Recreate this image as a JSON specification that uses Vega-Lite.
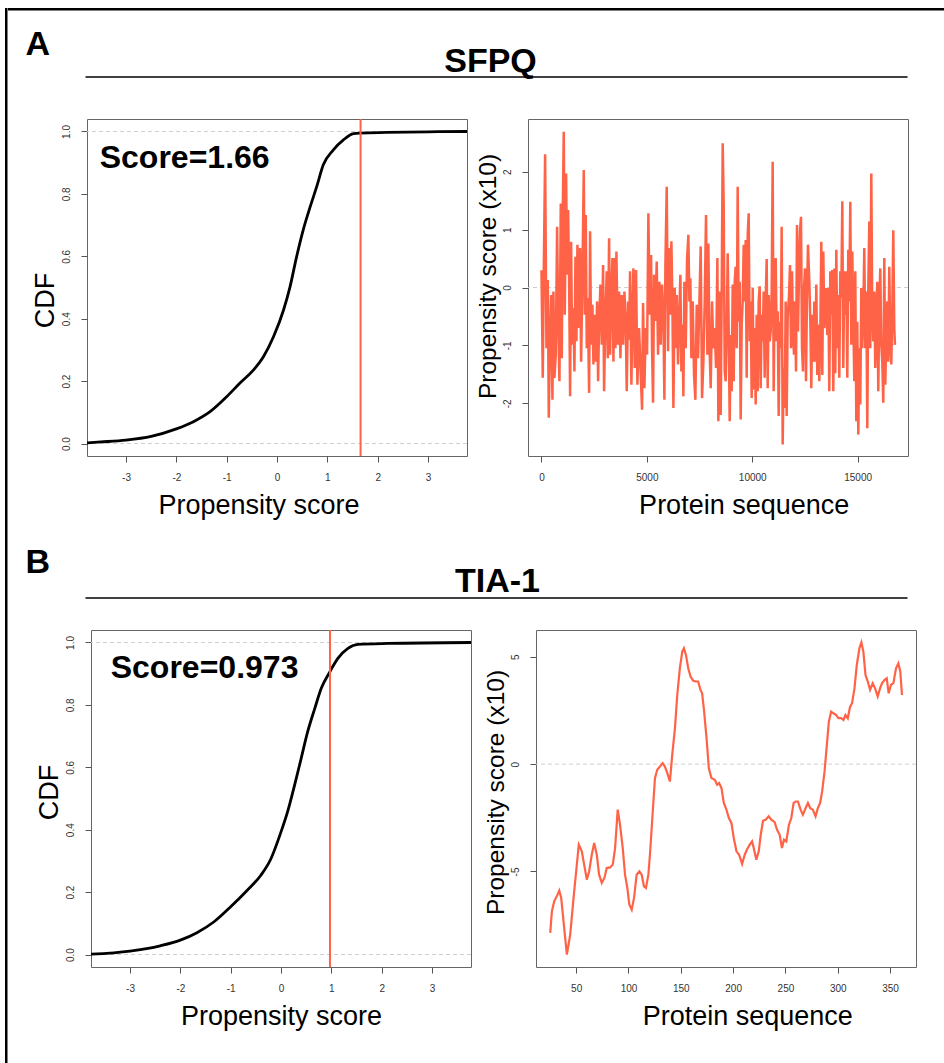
{
"$schema": "https://vega.github.io/schema/vega-lite/v6.json",
"padding": {"left": 5, "top": 8, "right": 0, "bottom": 0},
"background": "white",
"spacing": 0,
"config": {
 "font": "Liberation Sans",
 "view": {"stroke": "#666", "strokeWidth": 1},
 "axis": {"domain": false, "grid": false, "tickColor": "#555", "tickSize": 6, "tickWidth": 1, "labelFont": "Liberation Sans", "labelFontSize": 10, "labelColor": "#333", "titleFont": "Liberation Sans", "titleFontWeight": "normal", "titleColor": "black", "labelFlush": false, "labelOverlap": false},
 "axisX": {"labelPadding": 10, "titlePadding": 10, "titleFontSize": 27},
 "axisY": {"labelAngle": 270, "labelAlign": "center", "labelBaseline": "bottom", "labelPadding": 10, "titlePadding": 2, "titleFontSize": 27}
},
"datasets": {
 "cdfA": [
  {"x": -3.78, "p": 0.002}, {"x": -3.5, "p": 0.005}, {"x": -3.0, "p": 0.011}, {"x": -2.5, "p": 0.023}, {"x": -2.0, "p": 0.047}, {"x": -1.66, "p": 0.07}, {"x": -1.33, "p": 0.102}, {"x": -1.0, "p": 0.15}, {"x": -0.74, "p": 0.193}, {"x": -0.47, "p": 0.235}, {"x": -0.27, "p": 0.278}, {"x": -0.07, "p": 0.342}, {"x": 0.13, "p": 0.428}, {"x": 0.26, "p": 0.503}, {"x": 0.39, "p": 0.599}, {"x": 0.52, "p": 0.684}, {"x": 0.66, "p": 0.759}, {"x": 0.79, "p": 0.824}, {"x": 0.92, "p": 0.893}, {"x": 1.12, "p": 0.941}, {"x": 1.32, "p": 0.973}, {"x": 1.52, "p": 0.993}, {"x": 1.65, "p": 0.995}, {"x": 2.18, "p": 0.997}, {"x": 3.0, "p": 0.999}, {"x": 3.78, "p": 1.0}
 ],
 "cdfB": [
  {"x": -3.78, "p": 0.001}, {"x": -3.0, "p": 0.011}, {"x": -2.4, "p": 0.028}, {"x": -2.0, "p": 0.046}, {"x": -1.67, "p": 0.07}, {"x": -1.33, "p": 0.105}, {"x": -1.0, "p": 0.153}, {"x": -0.67, "p": 0.206}, {"x": -0.4, "p": 0.254}, {"x": -0.2, "p": 0.307}, {"x": 0.0, "p": 0.393}, {"x": 0.13, "p": 0.457}, {"x": 0.27, "p": 0.543}, {"x": 0.4, "p": 0.628}, {"x": 0.53, "p": 0.714}, {"x": 0.67, "p": 0.788}, {"x": 0.8, "p": 0.853}, {"x": 0.97, "p": 0.906}, {"x": 1.13, "p": 0.949}, {"x": 1.33, "p": 0.981}, {"x": 1.53, "p": 0.994}, {"x": 2.13, "p": 0.997}, {"x": 3.78, "p": 1.0}
 ],
 "sfpq": [
  {"pos": 0, "score": 0.30}, {"pos": 61, "score": -1.56}, {"pos": 109, "score": 0.30}, {"pos": 172, "score": 2.30}, {"pos": 235, "score": -1.05}, {"pos": 299, "score": 0.13}, {"pos": 346, "score": -2.25}, {"pos": 393, "score": -1.10}, {"pos": 457, "score": -0.13}, {"pos": 520, "score": -1.94}, {"pos": 567, "score": -0.07}, {"pos": 615, "score": -1.56}, {"pos": 678, "score": -1.16}, {"pos": 741, "score": 1.05}, {"pos": 789, "score": -0.47}, {"pos": 852, "score": -1.62}, {"pos": 915, "score": 1.45}, {"pos": 963, "score": -1.22}, {"pos": 1010, "score": 1.31}, {"pos": 1057, "score": 2.69}, {"pos": 1105, "score": -0.47}, {"pos": 1168, "score": 1.97}, {"pos": 1216, "score": 0.22}, {"pos": 1263, "score": 1.34}, {"pos": 1310, "score": 0.16}, {"pos": 1358, "score": -1.88}, {"pos": 1405, "score": 0.79}, {"pos": 1453, "score": -0.99}, {"pos": 1516, "score": -0.36}, {"pos": 1563, "score": -1.45}, {"pos": 1611, "score": 0.53}, {"pos": 1658, "score": -0.93}, {"pos": 1706, "score": 0.74}, {"pos": 1769, "score": -0.70}, {"pos": 1832, "score": 0.68}, {"pos": 1880, "score": -1.28}, {"pos": 1943, "score": 0.22}, {"pos": 2006, "score": 2.03}, {"pos": 2054, "score": -0.47}, {"pos": 2101, "score": 1.25}, {"pos": 2148, "score": -1.05}, {"pos": 2196, "score": -0.18}, {"pos": 2259, "score": -1.82}, {"pos": 2306, "score": 0.97}, {"pos": 2354, "score": -0.99}, {"pos": 2417, "score": -0.30}, {"pos": 2465, "score": -1.33}, {"pos": 2512, "score": -0.47}, {"pos": 2575, "score": -1.28}, {"pos": 2639, "score": -0.24}, {"pos": 2686, "score": -1.62}, {"pos": 2733, "score": -0.61}, {"pos": 2797, "score": 0.05}, {"pos": 2860, "score": -0.99}, {"pos": 2923, "score": 0.39}, {"pos": 2970, "score": -1.79}, {"pos": 3034, "score": -0.47}, {"pos": 3097, "score": 0.28}, {"pos": 3144, "score": -1.22}, {"pos": 3208, "score": 0.85}, {"pos": 3255, "score": -1.16}, {"pos": 3303, "score": -0.24}, {"pos": 3366, "score": 0.51}, {"pos": 3413, "score": -1.28}, {"pos": 3461, "score": 0.51}, {"pos": 3508, "score": -1.05}, {"pos": 3555, "score": 0.62}, {"pos": 3619, "score": -0.99}, {"pos": 3682, "score": -0.07}, {"pos": 3745, "score": -1.22}, {"pos": 3808, "score": -0.13}, {"pos": 3872, "score": -0.99}, {"pos": 3935, "score": -0.07},
  {"pos": 3997, "score": -0.60}, {"pos": 4045, "score": -1.79}, {"pos": 4108, "score": -0.24}, {"pos": 4155, "score": -0.90}, {"pos": 4203, "score": 0.28}, {"pos": 4266, "score": -1.68}, {"pos": 4313, "score": -0.50}, {"pos": 4361, "score": 0.33}, {"pos": 4424, "score": -1.39}, {"pos": 4487, "score": 0.30}, {"pos": 4551, "score": -1.68}, {"pos": 4630, "score": -0.70}, {"pos": 4709, "score": -1.50}, {"pos": 4772, "score": -2.11}, {"pos": 4819, "score": -0.27}, {"pos": 4883, "score": -1.74}, {"pos": 4946, "score": -0.70}, {"pos": 5009, "score": -1.16}, {"pos": 5072, "score": 1.28}, {"pos": 5135, "score": -0.47}, {"pos": 5199, "score": 0.56}, {"pos": 5246, "score": -1.05}, {"pos": 5294, "score": -1.99}, {"pos": 5341, "score": 0.22}, {"pos": 5404, "score": -0.58}, {"pos": 5467, "score": 0.45}, {"pos": 5531, "score": -1.16}, {"pos": 5594, "score": 0.10}, {"pos": 5657, "score": -0.99}, {"pos": 5720, "score": 0.05}, {"pos": 5784, "score": -0.47}, {"pos": 5831, "score": -1.94}, {"pos": 5879, "score": 0.39}, {"pos": 5942, "score": 1.74}, {"pos": 6005, "score": -1.10}, {"pos": 6052, "score": 0.68}, {"pos": 6100, "score": -0.47}, {"pos": 6163, "score": 0.80}, {"pos": 6211, "score": -0.24}, {"pos": 6258, "score": -2.08}, {"pos": 6321, "score": -0.01}, {"pos": 6369, "score": -1.05}, {"pos": 6416, "score": -0.13}, {"pos": 6479, "score": -1.33}, {"pos": 6527, "score": -0.58}, {"pos": 6590, "score": 0.22}, {"pos": 6637, "score": -1.45}, {"pos": 6685, "score": -0.64}, {"pos": 6732, "score": -1.88}, {"pos": 6780, "score": 0.10}, {"pos": 6843, "score": -1.05}, {"pos": 6906, "score": 0.48}, {"pos": 6969, "score": 0.91}, {"pos": 7017, "score": -0.24}, {"pos": 7064, "score": 0.16}, {"pos": 7112, "score": -1.22}, {"pos": 7175, "score": -0.24}, {"pos": 7238, "score": -1.51}, {"pos": 7301, "score": -1.94}, {"pos": 7365, "score": -0.30}, {"pos": 7428, "score": -1.22}, {"pos": 7491, "score": -0.27}, {"pos": 7554, "score": 0.71}, {"pos": 7618, "score": -1.91}, {"pos": 7681, "score": -1.28}, {"pos": 7744, "score": -0.24}, {"pos": 7807, "score": 1.25}, {"pos": 7871, "score": -1.16}, {"pos": 7918, "score": 0.76}, {"pos": 7966, "score": -0.93}, {"pos": 8029, "score": -1.74}, {"pos": 8092, "score": -0.24}, {"pos": 8155, "score": -1.05}, {"pos": 8218, "score": -0.70}, {"pos": 8282, "score": -1.39}, {"pos": 8345, "score": 0.51}, {"pos": 8392, "score": -2.31},
  {"pos": 8456, "score": -0.07}, {"pos": 8503, "score": -2.20}, {"pos": 8550, "score": -0.13}, {"pos": 8598, "score": 2.49}, {"pos": 8645, "score": 1.43}, {"pos": 8693, "score": -1.45}, {"pos": 8740, "score": -1.62}, {"pos": 8788, "score": -0.73}, {"pos": 8835, "score": 0.59}, {"pos": 8882, "score": -0.70}, {"pos": 8930, "score": -2.31}, {"pos": 8977, "score": -0.82}, {"pos": 9025, "score": -1.79}, {"pos": 9072, "score": 0.05}, {"pos": 9120, "score": -1.62}, {"pos": 9167, "score": 0.10}, {"pos": 9214, "score": 0.36}, {"pos": 9262, "score": -1.05}, {"pos": 9309, "score": 1.74}, {"pos": 9357, "score": -0.59}, {"pos": 9404, "score": 0.10}, {"pos": 9452, "score": -2.28}, {"pos": 9499, "score": -0.64}, {"pos": 9546, "score": -0.24}, {"pos": 9594, "score": 0.74}, {"pos": 9641, "score": -0.24}, {"pos": 9689, "score": 0.82}, {"pos": 9736, "score": -1.56}, {"pos": 9784, "score": 0.91}, {"pos": 9831, "score": 1.28}, {"pos": 9878, "score": -0.93}, {"pos": 9926, "score": -0.24}, {"pos": 9973, "score": -1.91}, {"pos": 10021, "score": -0.01}, {"pos": 10068, "score": -1.76}, {"pos": 10116, "score": -0.70}, {"pos": 10163, "score": -2.02}, {"pos": 10210, "score": -0.47}, {"pos": 10258, "score": -1.79}, {"pos": 10305, "score": -0.24}, {"pos": 10353, "score": 0.02}, {"pos": 10400, "score": -1.74}, {"pos": 10448, "score": -0.47}, {"pos": 10495, "score": -0.93}, {"pos": 10543, "score": -0.07}, {"pos": 10590, "score": -1.56}, {"pos": 10637, "score": -0.24}, {"pos": 10685, "score": 0.49}, {"pos": 10732, "score": -1.74}, {"pos": 10780, "score": -0.13}, {"pos": 10827, "score": -0.93}, {"pos": 10875, "score": -0.76}, {"pos": 10922, "score": -0.07}, {"pos": 10969, "score": 2.17}, {"pos": 11017, "score": -1.79}, {"pos": 11064, "score": -0.01}, {"pos": 11112, "score": 0.51}, {"pos": 11159, "score": -0.93}, {"pos": 11207, "score": -0.41}, {"pos": 11254, "score": -2.22}, {"pos": 11301, "score": -0.59}, {"pos": 11349, "score": -1.05}, {"pos": 11396, "score": 1.05}, {"pos": 11444, "score": -2.71}, {"pos": 11491, "score": -1.39}, {"pos": 11539, "score": -2.08}, {"pos": 11586, "score": -0.24}, {"pos": 11633, "score": -2.22}, {"pos": 11681, "score": -0.53}, {"pos": 11744, "score": -0.13}, {"pos": 11792, "score": 0.39}, {"pos": 11839, "score": -1.05}, {"pos": 11887, "score": 0.28}, {"pos": 11934, "score": -0.76}, {"pos": 11981, "score": -1.16}, {"pos": 12029, "score": -0.24}, {"pos": 12076, "score": -1.45}, {"pos": 12124, "score": 1.08}, {"pos": 12171, "score": -0.76}, {"pos": 12218, "score": 0.22}, {"pos": 12266, "score": 0.97}, {"pos": 12313, "score": 1.22}, {"pos": 12361, "score": -1.05}, {"pos": 12408, "score": -1.45}, {"pos": 12456, "score": -0.01}, {"pos": 12503, "score": 0.33}, {"pos": 12550, "score": -1.62}, {"pos": 12598, "score": -0.13}, {"pos": 12645, "score": 0.74}, {"pos": 12708, "score": 0.10}, {"pos": 12756, "score": -0.59},
  {"pos": 12802, "score": -1.74}, {"pos": 12850, "score": -0.47}, {"pos": 12897, "score": -1.28}, {"pos": 12945, "score": -0.24}, {"pos": 12992, "score": -1.28}, {"pos": 13039, "score": 0.05}, {"pos": 13087, "score": -1.51}, {"pos": 13134, "score": -0.64}, {"pos": 13182, "score": -1.62}, {"pos": 13229, "score": -0.76}, {"pos": 13277, "score": 0.79}, {"pos": 13324, "score": -1.51}, {"pos": 13372, "score": 0.62}, {"pos": 13419, "score": -0.70}, {"pos": 13466, "score": -0.47}, {"pos": 13514, "score": -0.01}, {"pos": 13561, "score": -0.82}, {"pos": 13609, "score": -0.01}, {"pos": 13656, "score": -1.79}, {"pos": 13704, "score": 0.28}, {"pos": 13751, "score": -0.47}, {"pos": 13798, "score": 0.30}, {"pos": 13846, "score": -1.79}, {"pos": 13893, "score": 0.33}, {"pos": 13941, "score": -1.48}, {"pos": 13988, "score": 0.65}, {"pos": 14036, "score": -1.05}, {"pos": 14083, "score": -0.13}, {"pos": 14130, "score": -1.56}, {"pos": 14178, "score": 0.28}, {"pos": 14225, "score": -0.18}, {"pos": 14273, "score": 1.49}, {"pos": 14320, "score": -1.39}, {"pos": 14368, "score": 0.28}, {"pos": 14415, "score": -0.47}, {"pos": 14462, "score": 0.28}, {"pos": 14510, "score": -1.56}, {"pos": 14557, "score": 0.65}, {"pos": 14605, "score": -0.24}, {"pos": 14652, "score": 1.48}, {"pos": 14700, "score": -0.99}, {"pos": 14747, "score": 0.62}, {"pos": 14794, "score": -0.59}, {"pos": 14842, "score": -1.62}, {"pos": 14889, "score": 0.28}, {"pos": 14937, "score": -2.31}, {"pos": 14984, "score": -0.59}, {"pos": 15032, "score": -2.54}, {"pos": 15079, "score": -1.05}, {"pos": 15126, "score": -2.02}, {"pos": 15174, "score": -0.01}, {"pos": 15221, "score": -1.05}, {"pos": 15269, "score": -0.47}, {"pos": 15316, "score": 0.68}, {"pos": 15364, "score": -1.05}, {"pos": 15411, "score": -0.07}, {"pos": 15458, "score": -2.43}, {"pos": 15506, "score": -0.01}, {"pos": 15553, "score": 1.14}, {"pos": 15601, "score": -1.05}, {"pos": 15648, "score": 1.97}, {"pos": 15696, "score": -0.47}, {"pos": 15743, "score": -0.93}, {"pos": 15790, "score": -0.07}, {"pos": 15838, "score": -1.39}, {"pos": 15885, "score": -0.47}, {"pos": 15933, "score": 0.10}, {"pos": 15980, "score": -1.79}, {"pos": 16028, "score": -0.30}, {"pos": 16075, "score": 0.33}, {"pos": 16122, "score": -0.99}, {"pos": 16170, "score": -1.28}, {"pos": 16217, "score": -1.99}, {"pos": 16265, "score": 0.51}, {"pos": 16312, "score": -1.68}, {"pos": 16360, "score": -0.82}, {"pos": 16407, "score": -0.24}, {"pos": 16454, "score": -1.28}, {"pos": 16502, "score": 0.36}, {"pos": 16549, "score": -0.87}, {"pos": 16597, "score": -1.33}, {"pos": 16644, "score": -0.47}, {"pos": 16692, "score": 0.99}, {"pos": 16739, "score": -0.70}, {"pos": 16771, "score": -0.99}
 ],
 "tia": [
  {"pos": 25.2, "score": -7.86}, {"pos": 26.8, "score": -6.85}, {"pos": 29.0, "score": -6.39}, {"pos": 32.2, "score": -6.08}, {"pos": 33.8, "score": -5.89}, {"pos": 35.7, "score": -6.23}, {"pos": 37.9, "score": -7.32}, {"pos": 41.1, "score": -8.87}, {"pos": 44.3, "score": -7.94}, {"pos": 47.5, "score": -6.23}, {"pos": 50.0, "score": -4.99}, {"pos": 52.5, "score": -3.75}, {"pos": 55.4, "score": -4.06}, {"pos": 57.6, "score": -4.68}, {"pos": 60.2, "score": -5.38}, {"pos": 62.4, "score": -4.99}, {"pos": 64.9, "score": -4.22}, {"pos": 67.2, "score": -3.67}, {"pos": 69.7, "score": -4.22}, {"pos": 71.9, "score": -5.15}, {"pos": 74.5, "score": -5.53}, {"pos": 77.0, "score": -5.30}, {"pos": 79.2, "score": -4.84}, {"pos": 82.4, "score": -4.81}, {"pos": 85.0, "score": -4.68}, {"pos": 87.2, "score": -3.91}, {"pos": 89.7, "score": -2.12}, {"pos": 91.9, "score": -2.82}, {"pos": 94.5, "score": -3.91}, {"pos": 96.7, "score": -5.15}, {"pos": 98.9, "score": -5.77}, {"pos": 100.8, "score": -6.54}, {"pos": 103.1, "score": -6.78}, {"pos": 105.3, "score": -6.23}, {"pos": 107.8, "score": -5.15}, {"pos": 110.4, "score": -4.99}, {"pos": 112.6, "score": -5.15}, {"pos": 114.8, "score": -5.69}, {"pos": 116.7, "score": -5.77}, {"pos": 119.0, "score": -5.15}, {"pos": 120.5, "score": -4.22}, {"pos": 122.8, "score": -2.51}, {"pos": 125.3, "score": -0.65}, {"pos": 127.5, "score": -0.26}, {"pos": 130.1, "score": -0.11}, {"pos": 132.6, "score": 0.05}, {"pos": 134.8, "score": -0.11}, {"pos": 137.1, "score": -0.42}, {"pos": 139.6, "score": -0.81}, {"pos": 141.8, "score": 0.43}, {"pos": 144.4, "score": 1.67}, {"pos": 146.6, "score": 3.22}, {"pos": 149.1, "score": 4.47}, {"pos": 151.4, "score": 5.24}, {"pos": 153.0, "score": 5.40}, {"pos": 154.9, "score": 5.09}, {"pos": 157.1, "score": 4.47}, {"pos": 159.3, "score": 4.08}, {"pos": 161.9, "score": 3.88}, {"pos": 164.4, "score": 3.85}, {"pos": 166.6, "score": 3.85}, {"pos": 168.8, "score": 3.46}, {"pos": 170.4, "score": 3.30}, {"pos": 172.3, "score": 2.45}, {"pos": 174.6, "score": 1.21}, {"pos": 176.8, "score": -0.19}, {"pos": 179.3, "score": -0.65}, {"pos": 182.5, "score": -0.73}, {"pos": 184.7, "score": -0.96}, {"pos": 186.6, "score": -0.88}, {"pos": 188.9, "score": -1.12}, {"pos": 191.1, "score": -1.81}, {"pos": 193.6, "score": -2.12}, {"pos": 195.9, "score": -2.51}, {"pos": 198.4, "score": -2.74}, {"pos": 200.6, "score": -3.44}, {"pos": 203.2, "score": -4.06}, {"pos": 205.7, "score": -4.22}, {"pos": 208.6, "score": -4.65}, {"pos": 211.1, "score": -4.22}, {"pos": 213.3, "score": -3.98}, {"pos": 215.9, "score": -3.75}, {"pos": 218.1, "score": -3.60}, {"pos": 219.7, "score": -3.91}, {"pos": 222.2, "score": -4.45}, {"pos": 224.5, "score": -4.06}, {"pos": 226.4, "score": -3.29}, {"pos": 228.6, "score": -2.64}, {"pos": 231.1, "score": -2.59}, {"pos": 234.0, "score": -2.43}, {"pos": 236.5, "score": -2.59}, {"pos": 239.7, "score": -2.70}, {"pos": 241.9, "score": -3.05}, {"pos": 244.5, "score": -3.29}, {"pos": 246.7, "score": -3.91}, {"pos": 248.6, "score": -3.52}, {"pos": 250.8, "score": -3.60}, {"pos": 253.4, "score": -2.82}, {"pos": 255.6, "score": -2.51}, {"pos": 257.8, "score": -1.81}, {"pos": 259.7, "score": -1.74}, {"pos": 261.9, "score": -1.74}, {"pos": 264.5, "score": -2.12}, {"pos": 266.7, "score": -2.36}, {"pos": 269.3, "score": -2.05}, {"pos": 271.5, "score": -1.81}, {"pos": 273.7, "score": -2.05}, {"pos": 276.2, "score": -2.12}, {"pos": 278.8, "score": -2.43}, {"pos": 281.0, "score": -2.05}, {"pos": 283.2, "score": -1.81}, {"pos": 285.1, "score": -1.27}, {"pos": 287.4, "score": -0.34}, {"pos": 289.6, "score": 0.90}, {"pos": 291.5, "score": 1.98}, {"pos": 293.7, "score": 2.45}, {"pos": 295.9, "score": 2.37}, {"pos": 298.5, "score": 2.29}, {"pos": 300.7, "score": 2.14}, {"pos": 303.3, "score": 2.14}, {"pos": 305.5, "score": 2.06}, {"pos": 307.4, "score": 2.29}, {"pos": 309.6, "score": 2.14}, {"pos": 311.8, "score": 2.68}, {"pos": 313.7, "score": 2.84}, {"pos": 316.0, "score": 3.53}, {"pos": 318.2, "score": 4.62}, {"pos": 320.7, "score": 5.40}, {"pos": 322.6, "score": 5.67}, {"pos": 324.5, "score": 5.24}, {"pos": 326.5, "score": 4.16}, {"pos": 328.7, "score": 3.85}, {"pos": 330.9, "score": 3.46}, {"pos": 333.4, "score": 3.77}, {"pos": 335.7, "score": 3.53}, {"pos": 338.2, "score": 3.15}, {"pos": 340.4, "score": 3.53}, {"pos": 342.3, "score": 3.77}, {"pos": 344.6, "score": 3.92}, {"pos": 346.8, "score": 4.00}, {"pos": 348.7, "score": 3.30}, {"pos": 350.9, "score": 3.69}, {"pos": 353.2, "score": 3.77}, {"pos": 355.7, "score": 4.47}, {"pos": 357.9, "score": 4.70}, {"pos": 359.8, "score": 4.31}, {"pos": 361.4, "score": 3.22}
 ]
},
"hconcat": [
 {"width": 2.5, "height": 1055, "view": {"stroke": null},
  "data": {"values": [{"edge": "frame"}]},
  "mark": {"type": "rect", "color": "black"},
  "encoding": {"x": {"datum": 0, "scale": {"domain": [0, 1], "nice": false}, "axis": null}, "x2": {"datum": 1}, "y": {"datum": 0, "scale": {"domain": [0, 1], "nice": false}, "axis": null}, "y2": {"datum": 1}}},
 {
  "spacing": 0,
  "vconcat": [
   {
    "width": 936.5, "height": 110,
    "view": {"stroke": null},
    "data": {"values": [{"panel": "A", "gene": "SFPQ"}]},
    "layer": [
     {"mark": {"type": "rect", "color": "black"},
      "encoding": {"x": {"datum": 0, "scale": {"domain": [0, 1], "nice": false}, "axis": null}, "x2": {"datum": 1}, "y": {"datum": 1, "scale": {"domain": [0, 1], "nice": false}, "axis": null}, "y2": {"datum": 0.97727}}},
     {"mark": {"type": "text", "font": "Liberation Sans", "fontWeight": "bold", "fontSize": 34, "align": "left", "baseline": "alphabetic"},
      "encoding": {"x": {"datum": 0.01869, "axis": null}, "y": {"datum": 0.5727, "axis": null}, "text": {"field": "panel"}}},
     {"mark": {"type": "text", "font": "Liberation Sans", "fontWeight": "bold", "fontSize": 34, "align": "center", "baseline": "alphabetic"},
      "encoding": {"x": {"datum": 0.5152, "axis": null}, "y": {"datum": 0.4182, "axis": null}, "text": {"field": "gene"}}},
     {"mark": {"type": "rule", "color": "black", "strokeWidth": 1.5},
      "encoding": {"x": {"datum": 0.08276, "axis": null}, "x2": {"datum": 0.9605}, "y": {"datum": 0.3727, "axis": null}}}
    ]
   },
   {
    "spacing": 6,
    "hconcat": [
     {"width": 15.5, "height": 420, "view": {"stroke": null},
      "data": {"values": [{"edge": "spacer"}]},
      "mark": {"type": "rect", "opacity": 0},
      "encoding": {"x": {"datum": 0, "scale": {"domain": [0, 1]}, "axis": null}, "x2": {"datum": 1}, "y": {"datum": 0, "scale": {"domain": [0, 1]}, "axis": null}, "y2": {"datum": 1}}},
     {"width": 380, "height": 337,
      "layer": [
       {"data": {"values": [{"ref": 0}, {"ref": 1}]},
        "mark": {"type": "rule", "color": "#cfcfcf", "strokeDash": [4, 3], "strokeWidth": 1, "clip": true},
        "encoding": {"y": {"field": "ref", "type": "quantitative", "title": "CDF"}}},
       {"data": {"name": "cdfA"},
        "mark": {"type": "line", "color": "black", "strokeWidth": 2.8, "interpolate": "monotone", "clip": true},
        "encoding": {
         "x": {"field": "x", "type": "quantitative", "title": "Propensity score", "scale": {"domain": [-3.775, 3.775], "nice": false, "zero": false}, "axis": {"values": [-3, -2, -1, 0, 1, 2, 3], "labelExpr": "'' + datum.value", "titleX": 171.5}},
         "y": {"field": "p", "type": "quantitative", "title": "CDF", "scale": {"domain": [-0.04, 1.04], "nice": false, "zero": false}, "axis": {"values": [0, 0.2, 0.4, 0.6, 0.8, 1.0], "labelExpr": "format(datum.value, '.1f')", "titleY": 181}}}},
       {"data": {"values": [{"score": 1.66, "label": "Score=1.66"}]},
        "mark": {"type": "rule", "color": "#FF6347", "strokeWidth": 2, "clip": true},
        "encoding": {"x": {"field": "score", "type": "quantitative", "title": "Propensity score"}}},
       {"data": {"values": [{"score": 1.66, "label": "Score=1.66"}]},
        "mark": {"type": "text", "font": "Liberation Sans", "fontWeight": "bold", "fontSize": 32, "align": "left", "baseline": "alphabetic", "color": "black"},
        "encoding": {"x": {"datum": -3.522}, "y": {"datum": 0.884}, "text": {"field": "label"}}}
      ]},
     {"width": 380, "height": 337,
      "layer": [
       {"data": {"values": [{"ref": 0}]},
        "mark": {"type": "rule", "color": "#cfcfcf", "strokeDash": [4, 3], "strokeWidth": 1, "clip": true},
        "encoding": {"y": {"field": "ref", "type": "quantitative", "title": "Propensity score (x10)"}}},
       {"data": {"name": "sfpq"},
        "mark": {"type": "line", "color": "#FF6347", "strokeWidth": 2.5, "clip": true},
        "encoding": {
         "x": {"field": "pos", "type": "quantitative", "title": "Protein sequence", "scale": {"domain": [-640, 17390], "nice": false, "zero": false}, "axis": {"values": [0, 5000, 10000, 15000], "labelExpr": "'' + datum.value", "titleX": 215.7}},
         "y": {"field": "score", "type": "quantitative", "title": "Propensity score (x10)", "scale": {"domain": [-2.91, 2.91], "nice": false, "zero": false}, "axis": {"values": [-2, -1, 0, 1, 2], "labelExpr": "'' + datum.value", "titleFontSize": 24.5, "titleY": 157}}}}
      ]}
    ]
   },
   {
    "width": 936.5, "height": 90,
    "view": {"stroke": null},
    "data": {"values": [{"panel": "B", "gene": "TIA-1"}]},
    "layer": [
     {"mark": {"type": "text", "font": "Liberation Sans", "fontWeight": "bold", "fontSize": 34, "align": "left", "baseline": "alphabetic"},
      "encoding": {"x": {"datum": 0.01869, "scale": {"domain": [0, 1], "nice": false}, "axis": null}, "y": {"datum": 0.6222, "scale": {"domain": [0, 1], "nice": false}, "axis": null}, "text": {"field": "panel"}}},
     {"mark": {"type": "text", "font": "Liberation Sans", "fontWeight": "bold", "fontSize": 34, "align": "center", "baseline": "alphabetic"},
      "encoding": {"x": {"datum": 0.5227, "axis": null}, "y": {"datum": 0.4111, "axis": null}, "text": {"field": "gene"}}},
     {"mark": {"type": "rule", "color": "black", "strokeWidth": 1.5},
      "encoding": {"x": {"datum": 0.08276, "axis": null}, "x2": {"datum": 0.9605}, "y": {"datum": 0.3444, "axis": null}}}
    ]
   },
   {
    "spacing": 10,
    "hconcat": [
     {"width": 15.5, "height": 435, "view": {"stroke": null},
      "data": {"values": [{"edge": "spacer"}]},
      "mark": {"type": "rect", "opacity": 0},
      "encoding": {"x": {"datum": 0, "scale": {"domain": [0, 1]}, "axis": null}, "x2": {"datum": 1}, "y": {"datum": 0, "scale": {"domain": [0, 1]}, "axis": null}, "y2": {"datum": 1}}},
     {"width": 380, "height": 337,
      "layer": [
       {"data": {"values": [{"ref": 0}, {"ref": 1}]},
        "mark": {"type": "rule", "color": "#cfcfcf", "strokeDash": [4, 3], "strokeWidth": 1, "clip": true},
        "encoding": {"y": {"field": "ref", "type": "quantitative", "title": "CDF"}}},
       {"data": {"name": "cdfB"},
        "mark": {"type": "line", "color": "black", "strokeWidth": 2.8, "interpolate": "monotone", "clip": true},
        "encoding": {
         "x": {"field": "x", "type": "quantitative", "title": "Propensity score", "scale": {"domain": [-3.775, 3.775], "nice": false, "zero": false}, "axis": {"values": [-3, -2, -1, 0, 1, 2, 3], "labelExpr": "'' + datum.value"}},
         "y": {"field": "p", "type": "quantitative", "title": "CDF", "scale": {"domain": [-0.04, 1.04], "nice": false, "zero": false}, "axis": {"values": [0, 0.2, 0.4, 0.6, 0.8, 1.0], "labelExpr": "format(datum.value, '.1f')", "titleY": 162}}}},
       {"data": {"values": [{"score": 0.973, "label": "Score=0.973"}]},
        "mark": {"type": "rule", "color": "#FF6347", "strokeWidth": 2, "clip": true},
        "encoding": {"x": {"field": "score", "type": "quantitative", "title": "Propensity score"}}},
       {"data": {"values": [{"score": 0.973, "label": "Score=0.973"}]},
        "mark": {"type": "text", "font": "Liberation Sans", "fontWeight": "bold", "fontSize": 32, "align": "left", "baseline": "alphabetic", "color": "black"},
        "encoding": {"x": {"datum": -3.383}, "y": {"datum": 0.885}, "text": {"field": "label"}}}
      ]},
     {"width": 380, "height": 337,
      "layer": [
       {"data": {"values": [{"ref": 0}]},
        "mark": {"type": "rule", "color": "#cfcfcf", "strokeDash": [4, 3], "strokeWidth": 1, "clip": true},
        "encoding": {"y": {"field": "ref", "type": "quantitative", "title": "Propensity score (x10)"}}},
       {"data": {"name": "tia"},
        "mark": {"type": "line", "color": "#FF6347", "strokeWidth": 2.2, "clip": true},
        "encoding": {
         "x": {"field": "pos", "type": "quantitative", "title": "Protein sequence", "scale": {"domain": [11.6, 374.8], "nice": false, "zero": false}, "axis": {"values": [50, 100, 150, 200, 250, 300, 350], "labelExpr": "'' + datum.value", "titleX": 211.3}},
         "y": {"field": "score", "type": "quantitative", "title": "Propensity score (x10)", "scale": {"domain": [-9.45, 6.25], "nice": false, "zero": false}, "axis": {"values": [-5, 0, 5], "labelExpr": "'' + datum.value", "titleFontSize": 24.5, "titleY": 162}}}}
      ]}
    ]
   }
  ]
 }
]
}
